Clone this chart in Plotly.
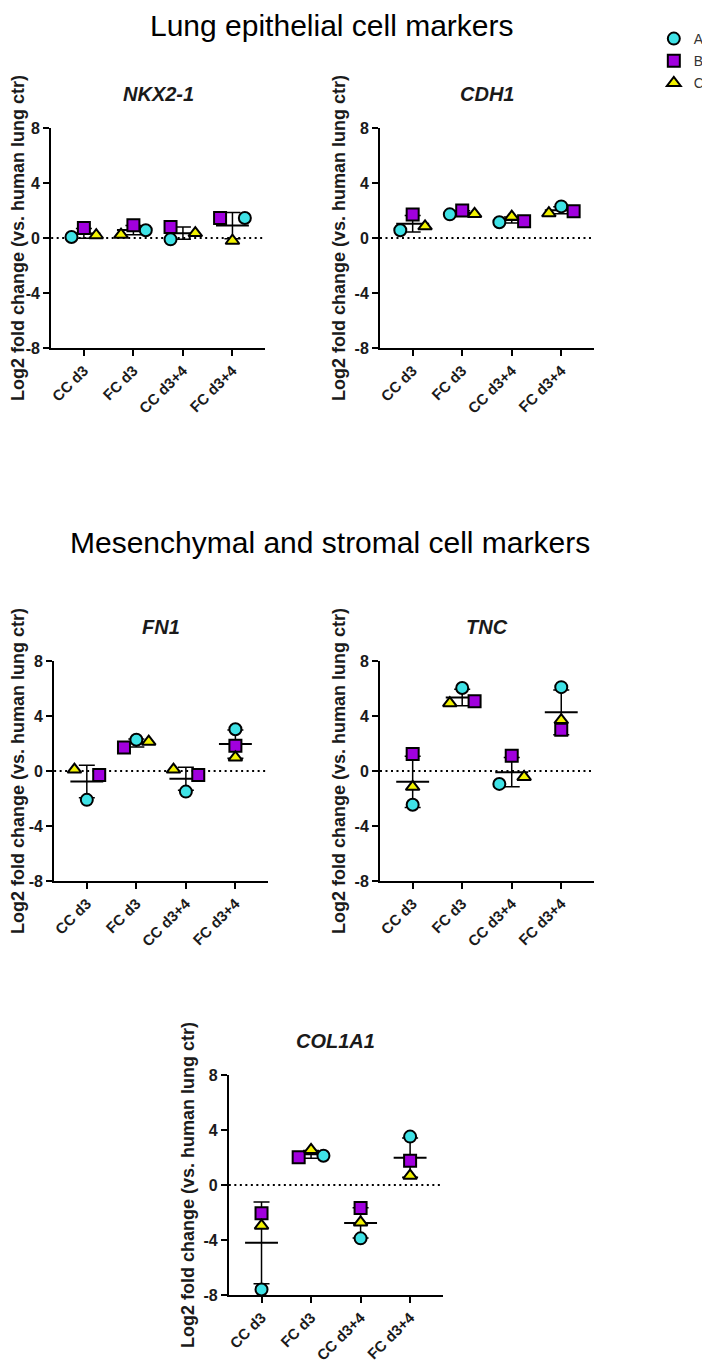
import numpy as np
import plotly.graph_objects as go

# The page body adds an 8px margin, so the figure is sized to fill the rest of the 710x1366 window
OFF = 8
W, H = 710 - OFF, 1366 - OFF

# ---------------- data ----------------
categories = ["CC d3", "FC d3", "CC d3+4", "FC d3+4"]
subjects = ["A", "B", "C"]
y_ticks = [-8, -4, 0, 4, 8]
y_tick_text = ["-8", "-4", "0", "4", "8"]

nkx21_A = [0.07, 0.56, -0.10, 1.45]
nkx21_B = [0.73, 0.92, 0.80, 1.45]
nkx21_C = [0.20, 0.24, 0.36, -0.20]

cdh1_A = [0.56, 1.72, 1.15, 2.30]
cdh1_B = [1.70, 2.00, 1.22, 1.95]
cdh1_C = [0.85, 1.75, 1.55, 1.80]

fn1_A = [-2.10, 2.27, -1.50, 3.04]
fn1_B = [-0.29, 1.71, -0.29, 1.84]
fn1_C = [0.10, 2.13, 0.10, 0.99]

tnc_A = [-2.45, 6.04, -0.94, 6.10]
tnc_B = [1.23, 5.07, 1.11, 3.00]
tnc_C = [-1.15, 4.93, -0.43, 3.70]

col1a1_A = [-7.60, 2.13, -3.88, 3.52]
col1a1_B = [-2.06, 2.01, -1.67, 1.77]
col1a1_C = [-2.96, 2.55, -2.72, 0.68]

genes = ["NKX2-1", "CDH1", "FN1", "TNC", "COL1A1"]
values = {
    "NKX2-1": {"A": nkx21_A, "B": nkx21_B, "C": nkx21_C},
    "CDH1": {"A": cdh1_A, "B": cdh1_B, "C": cdh1_C},
    "FN1": {"A": fn1_A, "B": fn1_B, "C": fn1_C},
    "TNC": {"A": tnc_A, "B": tnc_B, "C": tnc_C},
    "COL1A1": {"A": col1a1_A, "B": col1a1_B, "C": col1a1_C},
}

# ---------------- layout / styling ----------------
# horizontal scatter spread of each point inside its category (category units)
spread = {
    "NKX2-1": {"A": [-0.25, 0.25, -0.25, 0.25], "B": [0, 0, -0.25, -0.25], "C": [0.25, -0.25, 0.25, 0]},
    "CDH1": {"A": [-0.25, -0.25, -0.25, 0], "B": [0, 0, 0.25, 0.25], "C": [0.25, 0.25, 0, -0.25]},
    "FN1": {"A": [0, 0, 0, 0], "B": [0.25, -0.25, 0.25, 0], "C": [-0.25, 0.25, -0.25, 0]},
    "TNC": {"A": [0, 0, -0.25, 0], "B": [0, 0.25, 0, 0], "C": [0, -0.25, 0.25, 0]},
    "COL1A1": {"A": [0, 0.25, 0, 0], "B": [0, -0.25, 0, 0], "C": [0, 0, 0, 0]},
}

# panel boxes in window pixels: left, right, top, bottom
boxes = {
    "NKX2-1": (52, 270, 128, 348),
    "CDH1": (387, 605, 128, 348),
    "FN1": (55, 273, 661, 881),
    "TNC": (387, 605, 661, 881),
    "COL1A1": (233, 451, 1075, 1295),
}


def px(sx):
    return (sx - OFF) / W


def py(sy):
    return 1 - (sy - OFF) / H


styles = {
    "A": dict(symbol="circle", color="#3FE2E6"),
    "B": dict(symbol="square", color="#A100DE"),
    "C": dict(symbol="triangle-up", color="#F2F200"),
}

FONT = "Arial, Liberation Sans, sans-serif"
fig = go.Figure()
annotations = []
shapes = []
layout_axes = {}

for i, gene in enumerate(genes):
    n = i + 1
    xa = "x" if n == 1 else f"x{n}"
    ya = "y" if n == 1 else f"y{n}"
    l, r, t, b = boxes[gene]
    cat_idx = np.arange(len(categories))

    # mean with SD
    data = np.array([values[gene][s] for s in subjects])
    mean = data.mean(axis=0)
    sd = data.std(axis=0, ddof=1)
    fig.add_trace(go.Scatter(
        x=cat_idx, y=mean, mode="markers", xaxis=xa, yaxis=ya, showlegend=False,
        marker=dict(symbol="line-ew", size=23.5, color="black", line=dict(color="black", width=2)),
        error_y=dict(type="data", array=sd, visible=True, color="black", thickness=1.5, width=8),
        hoverinfo="skip", cliponaxis=False,
    ))
    for s in subjects:
        xs = cat_idx + np.array(spread[gene][s])
        fig.add_trace(go.Scatter(
            x=xs, y=values[gene][s], mode="markers", xaxis=xa, yaxis=ya,
            name=s, legendgroup=s, showlegend=(n == 1),
            marker=dict(symbol=styles[s]["symbol"], size=12, color=styles[s]["color"],
                        line=dict(color="black", width=2)),
            cliponaxis=False,
        ))

    key_x = "xaxis" if n == 1 else f"xaxis{n}"
    key_y = "yaxis" if n == 1 else f"yaxis{n}"
    layout_axes[key_x] = dict(
        domain=[px(l), px(r)], anchor=ya, range=[-0.66, 3.66],
        tickvals=list(cat_idx), ticktext=categories, tickangle=-45,
        showline=True, linecolor="black", linewidth=2, ticks="outside", ticklen=6,
        tickwidth=2, tickcolor="black", showgrid=False, zeroline=False,
        tickfont=dict(family=FONT, size=15, color="#1a1a1a", weight="bold"),
        automargin=False, fixedrange=True,
    )
    layout_axes[key_y] = dict(
        domain=[py(b), py(t)], anchor=xa, range=[-8, 8],
        tickvals=y_ticks, ticktext=y_tick_text, showline=True, linecolor="black", linewidth=2,
        ticks="outside", ticklen=6, tickwidth=2, tickcolor="black",
        showgrid=False, zeroline=False,
        tickfont=dict(family=FONT, size=16, color="#1a1a1a", weight="bold"),
        title=dict(text="Log2 fold change (vs. human lung ctr)", standoff=4,
                   font=dict(family=FONT, size=18, color="#1a1a1a", weight="bold")),
        automargin=False, fixedrange=True,
    )
    # dotted zero reference line
    shapes.append(dict(type="line", xref=f"{xa} domain", yref=ya, x0=0, x1=1, y0=0, y1=0,
                       line=dict(color="black", width=2, dash="2px,3.5px"), layer="below"))
    # panel title
    annotations.append(dict(text=gene, xref="paper", yref="paper",
                            x=px((l + r) / 2), y=py(t - 34), showarrow=False,
                            xanchor="center", yanchor="middle",
                            font=dict(family=FONT, size=20, color="#1a1a1a", weight="bold", style="italic")))

annotations.append(dict(text="Lung epithelial cell markers", xref="paper", yref="paper",
                        x=px(338), y=py(8), showarrow=False, xanchor="center", yanchor="top",
                        borderpad=0,
                        font=dict(family=FONT, size=30, color="black")))
annotations.append(dict(text="Mesenchymal and stromal cell markers", xref="paper", yref="paper",
                        x=px(336), y=py(543), showarrow=False, xanchor="center", yanchor="middle",
                        font=dict(family=FONT, size=30, color="black")))

fig.update_layout(
    width=W, height=H, margin=dict(l=0, r=0, t=0, b=0),
    paper_bgcolor="white", plot_bgcolor="white",
    showlegend=True,
    legend=dict(x=px(666), y=py(23), xanchor="left", yanchor="top",
                font=dict(family=FONT, size=14, color="#333333"),
                tracegroupgap=1, bgcolor="rgba(0,0,0,0)"),
    annotations=annotations, shapes=shapes,
    **layout_axes,
)

fig.write_html("out.html")
